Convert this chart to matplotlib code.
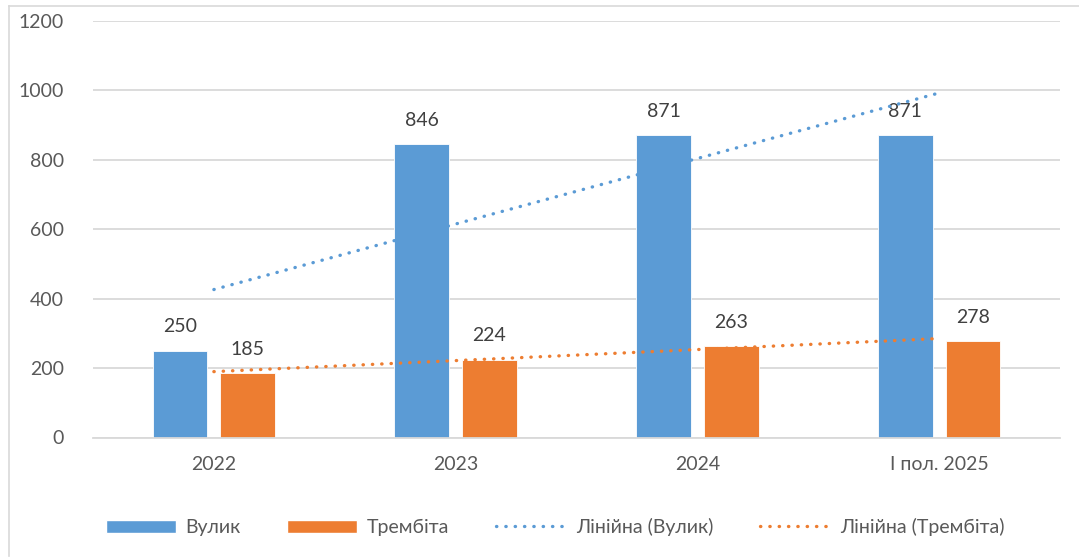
import numpy as np
import matplotlib
matplotlib.use("Agg")
import matplotlib.pyplot as plt
from matplotlib.lines import Line2D
from matplotlib.patches import Patch

plt.rcParams['font.family'] = ['Lato', 'DejaVu Sans']

categories = ['2022', '2023', '2024', 'І пол. 2025']
vulyk      = [250, 846, 871, 871]
trembita   = [185, 224, 263, 278]

BLUE   = '#5B9BD5'
ORANGE = '#ED7D31'
TXT    = '#595959'
GRID   = '#D9D9D9'
FS = 14

fig = plt.figure(figsize=(10.79, 5.59), dpi=100)
ax = fig.add_axes([93/1079, 1 - 437.5/559, (1060-93)/1079, (437.5-21)/559])

x = np.arange(len(categories))
w = 0.227
off = 0.14
ax.bar(x - off, vulyk, w, color=BLUE, edgecolor='white', linewidth=0.6, zorder=2)
ax.bar(x + off, trembita, w, color=ORANGE, edgecolor='white', linewidth=0.6, zorder=2)

for xi, v in zip(x - off, vulyk):
    ax.annotate(str(v), (xi, v), xytext=(0, 11), textcoords='offset points',
                ha='center', va='bottom', fontsize=FS, color='#404040')
for xi, v in zip(x + off, trembita):
    ax.annotate(str(v), (xi, v), xytext=(0, 11), textcoords='offset points',
                ha='center', va='bottom', fontsize=FS, color='#404040')

# лінійні тренди
xt = np.arange(1, len(categories) + 1)
kb, bb = np.polyfit(xt, vulyk, 1)
ko, bo = np.polyfit(xt, trembita, 1)
dots = dict(linestyle=(0, (0.1, 2.7)), linewidth=2.4, dash_capstyle='round', zorder=3)
ax.plot(x, kb * xt + bb, color=BLUE, **dots)
ax.plot(x, ko * xt + bo, color=ORANGE, **dots)

ax.set_xlim(-0.5, len(categories) - 0.5)
ax.set_ylim(0, 1200)
ax.set_yticks(range(0, 1201, 200))
ax.set_xticks(x)
ax.set_xticklabels(categories)
ax.tick_params(axis='both', length=0, labelsize=FS, labelcolor=TXT)
ax.tick_params(axis='y', pad=21)
ax.tick_params(axis='x', pad=13)
ax.grid(axis='y', color=GRID, linewidth=1.3, zorder=0)
ax.set_axisbelow(True)
for s in ['top', 'right', 'left']:
    ax.spines[s].set_visible(False)
ax.spines['bottom'].set_color(GRID)
ax.spines['bottom'].set_linewidth(1.3)

handles = [
    Patch(facecolor=BLUE, edgecolor='white'),
    Patch(facecolor=ORANGE, edgecolor='white'),
    Line2D([], [], color=BLUE, **dots),
    Line2D([], [], color=ORANGE, **dots),
]
labels = ['Вулик', 'Трембіта', 'Лінійна (Вулик)', 'Лінійна (Трембіта)']
fig.legend(handles, labels, loc='center', bbox_to_anchor=(555/1079, 1 - 527/559),
           ncol=4, frameon=False, fontsize=FS, labelcolor=TXT,
           handlelength=3.6, handleheight=0.65, handletextpad=0.5, columnspacing=2.4)

# рамка діаграми
fig.add_artist(Line2D([9/1079, 9/1079], [1 - 6/559, 1 - 556/559], color=GRID, linewidth=1.2))
fig.add_artist(Line2D([9/1079, 1.0], [1 - 6/559, 1 - 6/559], color=GRID, linewidth=1.2))

fig.savefig('out.png', dpi=100, facecolor='white')
